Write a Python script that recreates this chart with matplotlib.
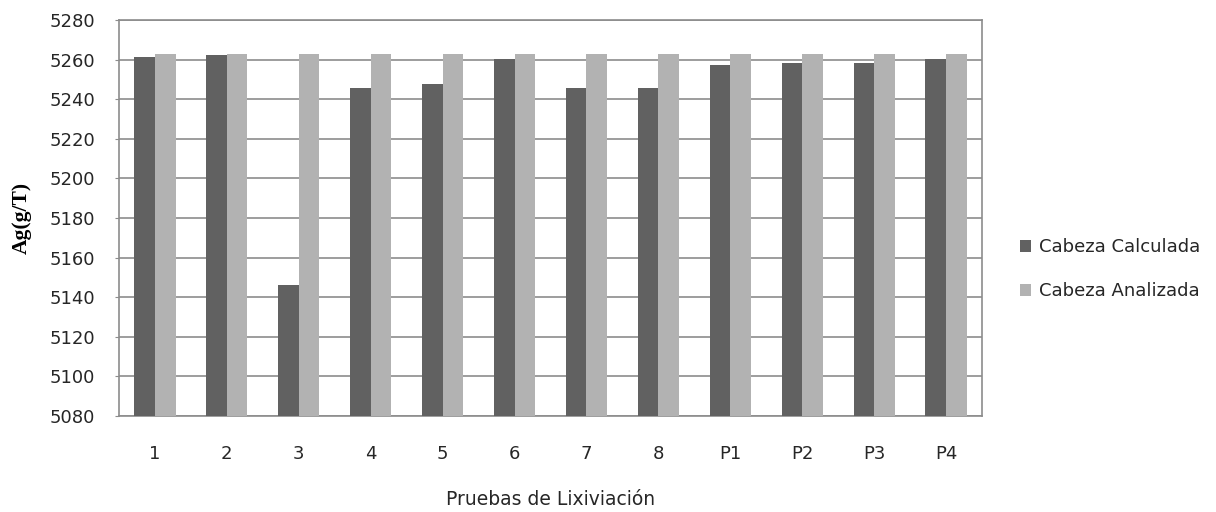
import matplotlib
matplotlib.use("Agg")
import matplotlib.pyplot as plt
import numpy as np

plt.rcParams["font.family"] = ["DejaVu Sans"]

categories = ["1", "2", "3", "4", "5", "6", "7", "8", "P1", "P2", "P3", "P4"]
cabeza_calculada = [5261.5, 5262.4, 5146.0, 5245.8, 5247.5, 5260.5, 5245.8, 5245.8,
                    5257.2, 5258.2, 5258.2, 5260.2]
cabeza_analizada = [5263.0] * 12
y_ticks = list(range(5080, 5281, 20))

dark = "#616161"
light = "#b2b2b2"
grid_col = "#8c8c8c"
text_col = "#262626"

fig = plt.figure(figsize=(12.16, 5.12), dpi=100)
ax = fig.add_axes([119 / 1216, 1 - 416 / 512, (982 - 119) / 1216, (416 - 20) / 512])

x = np.arange(len(categories))
w = 1 / 3.5
ax.bar(x - w / 2, cabeza_calculada, width=w, color=dark, label="Cabeza Calculada", zorder=3)
ax.bar(x + w / 2, cabeza_analizada, width=w, color=light, label="Cabeza Analizada", zorder=3)

ax.set_xlim(-0.5, len(categories) - 0.5)
ax.set_ylim(y_ticks[0], y_ticks[-1])
ax.set_yticks(y_ticks)
ax.set_xticks(x)
ax.set_xticklabels(categories)
ax.yaxis.grid(True, color=grid_col, linewidth=1.2, zorder=0)
ax.set_axisbelow(True)

for s in ax.spines.values():
    s.set_color(grid_col)
    s.set_linewidth(1.2)

ax.tick_params(axis="y", length=3, color=grid_col, labelsize=13, labelcolor=text_col, pad=14)
ax.tick_params(axis="x", length=0, labelsize=13, labelcolor=text_col, pad=21)

ax.set_ylabel("Ag(g/T)", fontfamily="Liberation Serif", fontweight="bold",
              fontsize=15.5, color="black", labelpad=13)
ax.set_xlabel("Pruebas de Lixiviación", fontsize=13.5, color=text_col, labelpad=19)

leg = fig.legend(loc="upper left", bbox_to_anchor=(1004 / 1216, 1 - 222 / 512),
                 frameon=False, fontsize=13, handlelength=0.6, handleheight=0.6,
                 handletextpad=0.45, labelspacing=1.45, labelcolor=text_col)

fig.savefig("out.png", dpi=100)
